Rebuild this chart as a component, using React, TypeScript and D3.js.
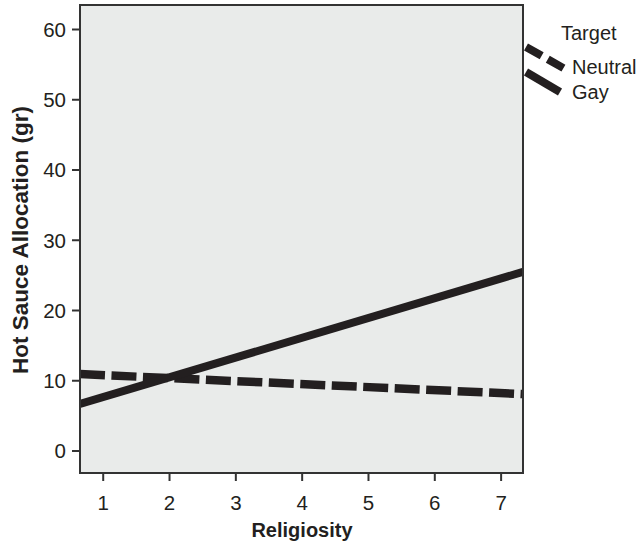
import React from "react";
import * as d3 from "d3";

const religiosityEnds = [0.65, 7.33];
const gayValues = [6.7, 25.5];
const neutralValues = [10.95, 8.1];
const xTicks = [1, 2, 3, 4, 5, 6, 7];
const yTicks = [0, 10, 20, 30, 40, 50, 60];
const legendTitle = "Target";
const legendLabels = ["Neutral", "Gay"];

const W = 637, H = 545;
const L = 80, R = 523, T = 5, B = 473;

export default function App() {
  const x = d3.scaleLinear().domain([0.65, 7.33]).range([L, R]);
  const y = d3.scaleLinear().domain([0, 60]).range([451, 29.5]);
  const line = d3.line<[number, number]>().x(d => x(d[0])).y(d => y(d[1]));
  const gayPts: [number, number][] = religiosityEnds.map((r, i) => [r, gayValues[i]]);
  const neuPts: [number, number][] = religiosityEnds.map((r, i) => [r, neutralValues[i]]);
  const font = "Arial, 'Liberation Sans', sans-serif";
  return (
    <svg width={W} height={H} style={{ position: "absolute", left: 0, top: 0 }} fontFamily={font}>
      <defs>
        <clipPath id="plotclip"><rect x={L} y={T} width={R - L} height={B - T} /></clipPath>
      </defs>
      <rect x={L} y={T} width={R - L} height={B - T} fill="#e9ebea" />
      <g clipPath="url(#plotclip)">
        <path d={line(neuPts) || ""} stroke="#231f20" strokeWidth={8.5} fill="none" strokeDasharray="25,6.5" />
        <path d={line(gayPts) || ""} stroke="#231f20" strokeWidth={8} fill="none" />
      </g>
      <rect x={L} y={T} width={R - L} height={B - T} fill="none" stroke="#333" strokeWidth={2} />
      {yTicks.map(t => (
        <g key={"y" + t}>
          <line x1={72} x2={L} y1={y(t)} y2={y(t)} stroke="#333" strokeWidth={2} />
          <text x={66} y={y(t)} dy="0.36em" textAnchor="end" fontSize={20.5} fill="#231f20">{t}</text>
        </g>
      ))}
      {xTicks.map(t => (
        <g key={"x" + t}>
          <line x1={x(t)} x2={x(t)} y1={B} y2={B + 8} stroke="#333" strokeWidth={2} />
          <text x={x(t)} y={503} dy="0.36em" textAnchor="middle" fontSize={20.5} fill="#231f20">{t}</text>
        </g>
      ))}
      <text x={302} y={530} dy="0.36em" textAnchor="middle" fontSize={20} fontWeight="bold" fill="#231f20">Religiosity</text>
      <text transform={`translate(20,240) rotate(-90)`} dy="0.36em" textAnchor="middle" fontSize={22.5} fontWeight="bold" fill="#231f20">Hot Sauce Allocation (gr)</text>
      <text x={561} y={33} dy="0.36em" fontSize={20} fill="#231f20">{legendTitle}</text>
      <line x1={526} y1={47} x2={565} y2={69} stroke="#231f20" strokeWidth={8} strokeDasharray="18,7" />
      <line x1={526} y1={72} x2={560} y2={92} stroke="#231f20" strokeWidth={8} />
      <text x={572} y={67} dy="0.36em" fontSize={20} fill="#231f20">{legendLabels[0]}</text>
      <text x={572} y={92} dy="0.36em" fontSize={20} fill="#231f20">{legendLabels[1]}</text>
    </svg>
  );
}
